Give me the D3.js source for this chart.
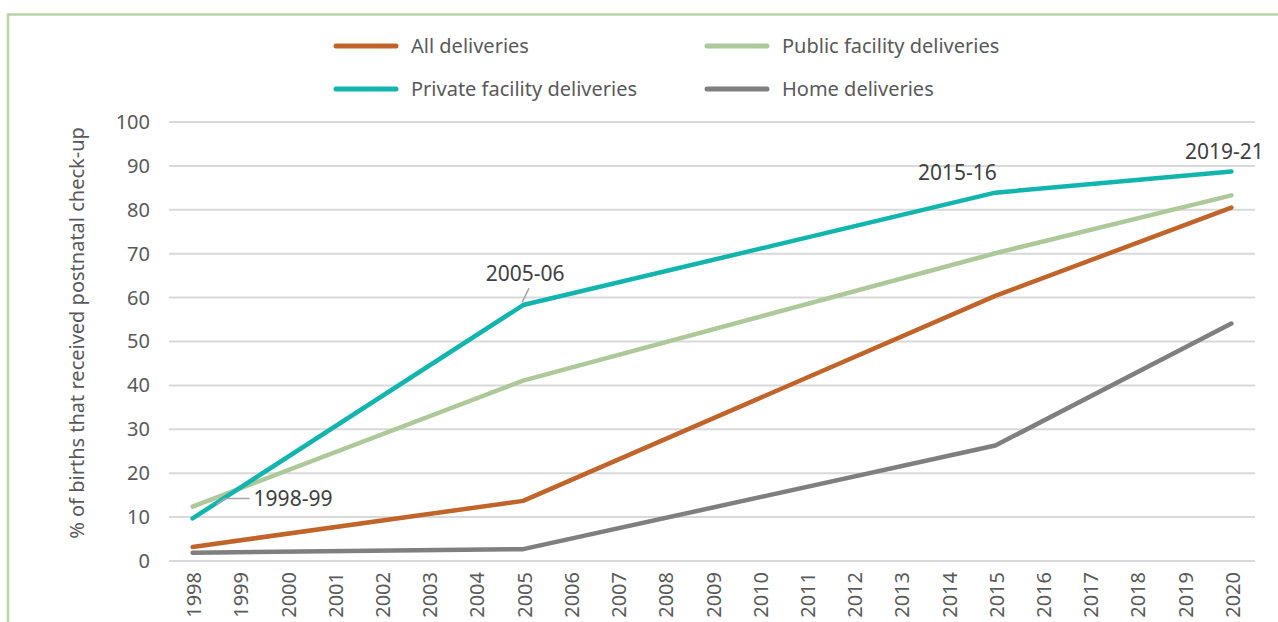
<!DOCTYPE html>
<html>
<head>
<meta charset="utf-8">
<script src="https://cdn.jsdelivr.net/npm/d3@7"></script>
<style>
  body { margin: 0; background: #fff; }
  svg { display: block; font-family: "Noto Sans", "Open Sans", sans-serif; }
</style>
</head>
<body>
<svg id="chart" width="1278" height="622"></svg>
<script>
// years on the axis
var years = d3.range(1998, 2021);
// survey rounds placed at their start year
var surveyYears = [1998, 2005, 2015, 2020];
var allDeliveries = [3.2, 13.7, 60.4, 80.5];
var publicDeliveries = [12.4, 41.1, 70.1, 83.3];
var privateDeliveries = [9.7, 58.3, 83.9, 88.7];
var homeDeliveries = [1.9, 2.7, 26.3, 54.1];
var yTicks = [0, 10, 20, 30, 40, 50, 60, 70, 80, 90, 100];
var seriesNames = ['All deliveries', 'Public facility deliveries', 'Private facility deliveries', 'Home deliveries'];
var seriesColors = ['#c0642a', '#adc99a', '#12b5ae', '#7f7f7f'];
var roundLabels = ['1998-99', '2005-06', '2015-16', '2019-21'];

var svg = d3.select('#chart');
var margin = { top: 122, left: 169, right: 23, bottom: 61 };
var width = 1278 - margin.left - margin.right;
var height = 622 - margin.top - margin.bottom;
var textColor = '#595959';

// frame on top and left
svg.append('path')
   .attr('d', 'M8,622 V14.5 H1278')
   .attr('fill', 'none')
   .attr('stroke', '#b9d2a6')
   .attr('stroke-width', 2.5);

var g = svg.append('g').attr('transform', `translate(${margin.left},${margin.top})`);

var x = d3.scalePoint().domain(years).range([0, width]).padding(0.5);
var y = d3.scaleLinear().domain([0, 100]).range([height, 0]);

// gridlines
g.append('g').selectAll('line').data(yTicks).enter().append('line')
 .attr('x1', 0).attr('x2', width)
 .attr('y1', d => y(d)).attr('y2', d => y(d))
 .attr('stroke', '#d9d9d9').attr('stroke-width', 2);

// y axis labels
var yAxis = g.append('g').call(d3.axisLeft(y).tickValues(yTicks).tickSize(0).tickPadding(19));
yAxis.select('.domain').remove();
yAxis.selectAll('text').attr('font-size', 20).attr('fill', textColor).attr('font-family', '"Noto Sans", sans-serif');

// x axis labels
var xAxis = g.append('g').attr('transform', `translate(0,${height})`)
             .call(d3.axisBottom(x).tickSize(0).tickFormat(d3.format('d')));
xAxis.select('.domain').remove();
xAxis.selectAll('text')
     .attr('font-size', 20).attr('fill', textColor).attr('font-family', '"Noto Sans", sans-serif')
     .attr('transform', 'rotate(-90)')
     .attr('text-anchor', 'end')
     .attr('x', -11).attr('y', 1).attr('dy', '0.35em');

// y title
svg.append('text')
   .attr('transform', 'translate(84,333) rotate(-90)')
   .attr('text-anchor', 'middle')
   .attr('font-size', 20)
   .attr('fill', textColor)
   .text('% of births that received postnatal check-up');

var lineGen = d3.line().x(d => x(d[0])).y(d => y(d[1]));
var seriesData = [allDeliveries, publicDeliveries, privateDeliveries, homeDeliveries];
var drawOrder = [3, 0, 1, 2];

drawOrder.forEach(function(i) {
  var pts = surveyYears.map((yr, j) => [yr, seriesData[i][j]]);
  g.append('path')
   .attr('d', lineGen(pts))
   .attr('fill', 'none')
   .attr('stroke', seriesColors[i])
   .attr('stroke-width', 4.5)
   .attr('stroke-linecap', 'round')
   .attr('stroke-linejoin', 'round');
});

// survey round labels
var annoColor = '#404040';
var annoSize = 21;
// 1998-99 with elbow leader
var p98 = [x(1998), y(publicDeliveries[0])];
g.append('path')
 .attr('d', `M${p98[0] + 24},${p98[1] - 2} L${p98[0] + 32},${p98[1] - 8} H${p98[0] + 57}`)
 .attr('fill', 'none').attr('stroke', '#a6a6a6').attr('stroke-width', 1.5);
g.append('text').attr('x', p98[0] + 61).attr('y', p98[1] - 1)
 .attr('font-size', annoSize).attr('fill', annoColor).text(roundLabels[0]);

// 2005-06
var p05 = [x(2005), y(privateDeliveries[1])];
g.append('line')
 .attr('x1', p05[0] - 1).attr('y1', p05[1] - 3)
 .attr('x2', p05[0] + 6).attr('y2', p05[1] - 17)
 .attr('stroke', '#a6a6a6').attr('stroke-width', 1.5);
g.append('text').attr('x', p05[0] + 2).attr('y', p05[1] - 24)
 .attr('text-anchor', 'middle').attr('font-size', annoSize).attr('fill', annoColor).text(roundLabels[1]);

// 2015-16
var p15 = [x(2015), y(privateDeliveries[2])];
g.append('text').attr('x', p15[0] - 38).attr('y', p15[1] - 13)
 .attr('text-anchor', 'middle').attr('font-size', annoSize).attr('fill', annoColor).text(roundLabels[2]);

// 2019-21
var p20 = [x(2020), y(privateDeliveries[3])];
g.append('text').attr('x', p20[0] - 7).attr('y', p20[1] - 13)
 .attr('text-anchor', 'middle').attr('font-size', annoSize).attr('fill', annoColor).text(roundLabels[3]);

// legend
var legendPos = [[336, 46], [707, 46], [336, 89], [707, 89]];
var legend = svg.append('g');
seriesNames.forEach(function(name, i) {
  var lg = legend.append('g').attr('transform', `translate(${legendPos[i][0]},${legendPos[i][1]})`);
  lg.append('line').attr('x1', 0).attr('x2', 60).attr('y1', 0).attr('y2', 0)
    .attr('stroke', seriesColors[i]).attr('stroke-width', 5).attr('stroke-linecap', 'round');
  lg.append('text').attr('x', 75).attr('y', 0).attr('dy', '0.35em')
    .attr('font-size', 20).attr('fill', textColor).text(name);
});
</script>
</body>
</html>
